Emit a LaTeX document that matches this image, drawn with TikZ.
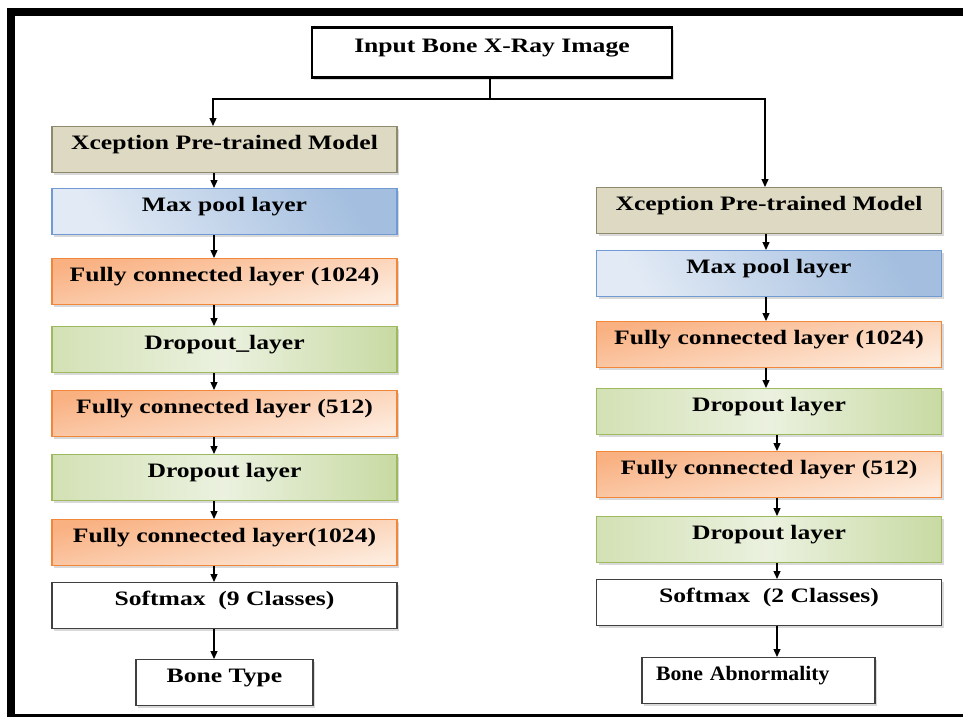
\documentclass[tikz,border=0pt]{standalone}
\usepackage{fontspec}
\setmainfont{Liberation Serif}[FakeStretch=1.25]
\newfontfamily\narrowserif{Liberation Serif}[FakeStretch=1.06]
\usetikzlibrary{arrows.meta,shadows,calc}

\definecolor{tanfill}{HTML}{DDD9C3}
\definecolor{tanline}{HTML}{8E8A6E}
\definecolor{blueL}{HTML}{E2EAF5}
\definecolor{blueD}{HTML}{A3BEDF}
\definecolor{blueline}{HTML}{6F9AD3}
\definecolor{orangeD}{HTML}{F9B182}
\definecolor{orangeL}{HTML}{FDEBDD}
\definecolor{orangeline}{HTML}{F0873A}
\definecolor{greenA}{HTML}{D3E1B5}
\definecolor{greenL}{HTML}{EBF1DF}
\definecolor{greenB}{HTML}{C8DAA3}
\definecolor{greenline}{HTML}{9DBB5E}
\definecolor{plainline}{HTML}{404040}

\begin{document}
\begin{tikzpicture}[x=1pt,y=-1pt,
  layer/.style={rectangle, anchor=north, minimum width=345pt, inner xsep=0pt,
    inner ysep=6pt, text height=17pt, text depth=17pt, line width=1.4pt,
    font=\fontsize{20.5}{24}\selectfont\bfseries,
    drop shadow={shadow xshift=2pt, shadow yshift=-2.5pt, opacity=0.3}},
  model/.style={layer, draw=tanline, fill=tanfill},
  pool/.style={layer, draw=blueline, top color=blueD, bottom color=blueL, shading angle=-60},
  dense/.style={layer, draw=orangeline, top color=orangeD, bottom color=orangeL, shading angle=12},
  drop/.style={layer, draw=greenline, left color=greenA, right color=greenB, middle color=greenL},
  plain/.style={layer, draw=plainline, fill=white},
  arr/.style={-{Triangle[length=8pt,width=7pt]}, line width=1.3pt},
  link/.style={line width=1.3pt}
]
\useasboundingbox (0,0) rectangle (963,716);

% outer frame
\draw[line width=8pt] (11,12) rectangle (970,718);

% input
\node[plain, minimum width=360pt, text height=19pt, text depth=19pt,
  line width=2.6pt, draw=black] (in) at (492,26) {Input Bone X-Ray Image};

% left branch: bone type
\node[model] (L1) at (224.5,126) {Xception Pre-trained Model};
\node[pool]  (L2) at (224.5,188) {Max pool layer};
\node[dense] (L3) at (224.5,258) {Fully connected layer (1024)};
\node[drop]  (L4) at (224.5,326) {Dropout\_layer};
\node[dense] (L5) at (224.5,390) {Fully connected layer (512)};
\node[drop]  (L6) at (224.5,454) {Dropout layer};
\node[dense] (L7) at (224.5,519) {Fully connected layer(1024)};
\node[plain] (L8) at (224.5,582) {Softmax\ \ (9 Classes)};
\node[plain, minimum width=177pt] (L9) at (224.5,659) {Bone Type};

% right branch: abnormality
\node[model] (R1) at (769,187) {Xception Pre-trained Model};
\node[pool]  (R2) at (769,250) {Max pool layer};
\node[dense] (R3) at (769,321) {Fully connected layer (1024)};
\node[drop]  (R4) at (769,388) {Dropout layer};
\node[dense] (R5) at (769,451) {Fully connected layer (512)};
\node[drop]  (R6) at (769,516) {Dropout layer};
\node[plain] (R7) at (769,579) {Softmax\ \ (2 Classes)};
\node[plain, minimum width=0pt, text width=205pt, inner xsep=14pt, align=left,
  font=\fontsize{20.5}{24}\selectfont\narrowserif\bfseries] (R8) at (758.5,657) {Bone Abnormality};

% connector columns
\coordinate (split) at (490,99);
\coordinate (lx) at (214,0);
\coordinate (ra) at (766,0);
\coordinate (rb) at (777,0);

\draw[link] (in.south -| split) -- (split);
\draw[arr] (split) -| (L1.north -| 213,0);
\draw[arr] (split) -| (R1.north -| 765,0);

\foreach \a/\b in {L1/L2,L2/L3,L3/L4,L4/L5,L5/L6,L6/L7,L7/L8,L8/L9}
  \draw[arr] (\a.south -| lx) -- (\b.north -| lx);
\foreach \a/\b in {R1/R2,R2/R3,R3/R4}
  \draw[arr] (\a.south -| ra) -- (\b.north -| ra);
\foreach \a/\b in {R4/R5,R5/R6,R6/R7,R7/R8}
  \draw[arr] (\a.south -| rb) -- (\b.north -| rb);
\end{tikzpicture}
\end{document}
